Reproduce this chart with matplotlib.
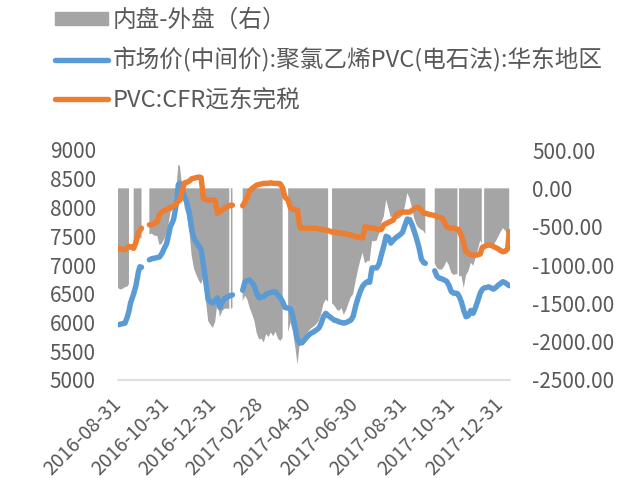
import numpy as np
import pandas as pd
import matplotlib
matplotlib.use('Agg')
import matplotlib.pyplot as plt
from matplotlib.patches import Patch
from matplotlib.lines import Line2D
from matplotlib.transforms import ScaledTranslation

plt.rcParams['font.family'] = ['Noto Sans CJK SC', 'DejaVu Sans']

nan = np.nan

dates = [
    '2016-08-31', '2016-09-03', '2016-09-06', '2016-09-09', '2016-09-12', '2016-09-14',
    '2016-09-16', '2016-09-20', '2016-09-23', '2016-09-26', '2016-09-28', '2016-09-30',
    '2016-10-05', '2016-10-10', '2016-10-13', '2016-10-17', '2016-10-20', '2016-10-23',
    '2016-10-26', '2016-10-29',
    '2016-11-01', '2016-11-04', '2016-11-06', '2016-11-08', '2016-11-10', '2016-11-12',
    '2016-11-14', '2016-11-16', '2016-11-18', '2016-11-21', '2016-11-24', '2016-11-27',
    '2016-11-30',
    '2016-12-03', '2016-12-06', '2016-12-09', '2016-12-12', '2016-12-15', '2016-12-18',
    '2016-12-21', '2016-12-24', '2016-12-27', '2016-12-30',
    '2017-01-02', '2017-01-05', '2017-01-08', '2017-01-11', '2017-01-14', '2017-01-17',
    '2017-01-20', '2017-01-21', '2017-01-22', '2017-01-24', '2017-01-29',
    '2017-02-06', '2017-02-09', '2017-02-12', '2017-02-15', '2017-02-18', '2017-02-21',
    '2017-02-24', '2017-02-27',
    '2017-03-02', '2017-03-05', '2017-03-08', '2017-03-11', '2017-03-14', '2017-03-17',
    '2017-03-20', '2017-03-23', '2017-03-26', '2017-03-29',
    '2017-04-01', '2017-04-05', '2017-04-08', '2017-04-11', '2017-04-14', '2017-04-17',
    '2017-04-20', '2017-04-23', '2017-04-26', '2017-04-29',
    '2017-05-02', '2017-05-05', '2017-05-08', '2017-05-11', '2017-05-14', '2017-05-17',
    '2017-05-20', '2017-05-23', '2017-05-26', '2017-05-28', '2017-05-31',
    '2017-06-03', '2017-06-06', '2017-06-09', '2017-06-12', '2017-06-15', '2017-06-18',
    '2017-06-21', '2017-06-24', '2017-06-27', '2017-06-30',
    '2017-07-03', '2017-07-06', '2017-07-09', '2017-07-12', '2017-07-15', '2017-07-18',
    '2017-07-21', '2017-07-24', '2017-07-27', '2017-07-30',
    '2017-08-02', '2017-08-05', '2017-08-08', '2017-08-11', '2017-08-14', '2017-08-17',
    '2017-08-20', '2017-08-23', '2017-08-26', '2017-08-29',
    '2017-09-01', '2017-09-04', '2017-09-07', '2017-09-10', '2017-09-13', '2017-09-16',
    '2017-09-19', '2017-09-22', '2017-09-25', '2017-09-27',
    '2017-10-02', '2017-10-09', '2017-10-12', '2017-10-15', '2017-10-18', '2017-10-21',
    '2017-10-24', '2017-10-27', '2017-10-30',
    '2017-11-02', '2017-11-05', '2017-11-07', '2017-11-08', '2017-11-09', '2017-11-12',
    '2017-11-15', '2017-11-18', '2017-11-21', '2017-11-24', '2017-11-27', '2017-11-30',
    '2017-12-03', '2017-12-06', '2017-12-08', '2017-12-09', '2017-12-11', '2017-12-14',
    '2017-12-17', '2017-12-20', '2017-12-23', '2017-12-26', '2017-12-29',
    '2018-01-01', '2018-01-04', '2018-01-07', '2018-01-10', '2018-01-12',
]

# 市场价(中间价):聚氯乙烯PVC(电石法):华东地区
blue = [
    5960, 5970, 5980, 5990, 6100, 6200, 6340, 6500, 6650, 6880, 6970, 6960,
    nan, 7090, 7110, 7120, 7130, 7140, 7200, 7290,
    7370, 7560, 7680, 7730, 7800, 7950, 8120, 8400, 8420, 8300, 8180, 8080, 7900,
    7620, 7460, 7390, 7330, 7270, 7000, 6700, 6400, 6360, 6340,
    6380, 6430, 6260, 6360, 6420, 6440, 6460, 6465, 6470, 6480, nan,
    6560, 6710, 6730, 6740, 6690, 6630, 6500, 6430,
    6440, 6450, 6490, 6510, 6520, 6530, 6530, 6480, 6430, 6360,
    6260, 6250, 6240, 6110, 5900, 5700, 5640, 5650, 5700, 5750,
    5790, 5820, 5840, 5870, 5900, 5980, 6100, 6160, 6120, 6100, 6070,
    6040, 6030, 6010, 6000, 5990, 6000, 6020, 6040, 6110, 6280,
    6420, 6540, 6630, 6680, 6710, 6700, 6950, 6950, 6950, 7020,
    7180, 7330, 7500, 7480, 7380, 7430, 7470, 7500, 7530, 7570,
    7690, 7800, 7790, 7700, 7580, 7450, 7300, 7100, 7040, 7030,
    nan, 6900, 6800, 6770, 6760, 6740, 6720, 6650, 6540,
    6510, 6510, 6500, 6480, 6460, 6360, 6210, 6100, 6120, 6210, 6160, 6260,
    6380, 6510, 6560, 6580, 6600, 6610, 6620, 6600, 6580, 6610, 6650,
    6680, 6710, 6690, 6660, 6640,
]

# PVC:CFR远东完税
orange = [
    7290, 7280, 7270, 7270, 7300, 7320, 7320, 7290, 7400, 7560, 7600, 7640,
    nan, 7700, 7700, 7730, 7750, 7880, 7920, 7950,
    7960, 7990, 7990, 8010, 8030, 8040, 8080, 8110, 8130, 8300, 8430, 8440, 8460,
    8500, 8510, 8520, 8530, 8520, 8160, 8140, 8130, 8130, 8130,
    8120, 7900, 7930, 7960, 7990, 8010, 8030, 8035, 8040, 8040, nan,
    8030, 8100, 8180, 8290, 8330, 8360, 8390, 8400,
    8410, 8420, 8420, 8420, 8430, 8420, 8420, 8420, 8410, 8340,
    8180, 8130, 7990, 7970, 7960, 7950, 7650, 7640, 7640, 7640,
    7640, 7640, 7640, 7640, 7630, 7620, 7610, 7610, 7600, 7590, 7570,
    7570, 7560, 7560, 7550, 7550, 7540, 7530, 7520, 7510, 7490,
    7490, 7480, 7470, 7660, 7660, 7650, 7640, 7640, 7630, 7610,
    7620, 7700, 7720, 7740, 7760, 7780, 7860, 7900, 7910, 7920,
    7920, 7920, 7920, 7950, 7980, 8000, 8000, 7950, 7900, 7900,
    7880, 7860, 7840, 7830, 7820, 7760, 7670, 7650, 7640,
    7640, 7630, 7620, 7620, 7610, 7500, 7380, 7230, 7200, 7180, 7170, 7170,
    7180, 7190, 7280, 7310, 7320, 7340, 7350, 7340, 7320, 7300, 7280,
    7250, 7230, 7240, 7280, 7580,
]

# 内盘-外盘（右）
spread = [
    -1300, -1320, -1310, -1290, -1280, -1250, nan, -800, -720, -680, -640, -660,
    nan, -600, -590, -620, -620, -740, -720, -660,
    -590, -430, -310, -280, -230, -90, 60, 310, 290, 0, -250, -360, -560,
    -880, -1050, -1130, -1200, -1250, -1160, -1450, -1730, -1780, -1820,
    -1740, -1480, -1680, -1600, -1570, -1570, -1570, nan, -1570, -1560, nan,
    -1470, -1400, -1450, -1560, -1640, -1730, -1890, -1970,
    -1960, -2010, -1900, -1940, -1880, -1930, -1870, -1960, -1990, -1950,
    nan, -1880, -1750, -1860, -2060, -2300, -2010, -1990, -1940, -1890,
    -1850, -1820, -1800, -1770, -1730, -1640, -1510, -1450, -1480, nan, -1500,
    -1530, -1580, -1600, -1560, -1650, -1590, -1500, -1420, -1380, -1210,
    -1070, -940, -840, -980, -950, -950, -690, -690, -680, -590,
    -440, -370, -150, -260, -380, -350, -390, -400, -380, -350,
    -230, -60, -130, -250, -400, -480, -520, -540, -560, -600,
    nan, -980, -1040, -1060, -1060, -1020, -950, -1000, -1100,
    -1130, -1120, -1120, nan, -1150, -1140, -1300, -1130, -1080, -970, -1010, -910,
    -800, -680, -720, nan, -720, -730, -730, -740, -740, -690, -630,
    -570, -520, -550, -620, -650,
]

tick_dates = ['2016-08-31', '2016-10-31', '2016-12-31', '2017-02-28', '2017-04-30',
              '2017-06-30', '2017-08-31', '2017-10-31', '2017-12-31']
left_ticks = [5000, 5500, 6000, 6500, 7000, 7500, 8000, 8500, 9000]
right_ticks = [-2500, -2000, -1500, -1000, -500, 0, 500]
right_labels = ['-2500.00', '-2000.00', '-1500.00', '-1000.00', '-500.00', '0.00', '500.00']

labels = ['内盘-外盘（右）', '市场价(中间价):聚氯乙烯PVC(电石法):华东地区', 'PVC:CFR远东完税']

x = pd.to_datetime(dates)
txt = '#595959'

fig = plt.figure(figsize=(6.22, 4.95), dpi=100)
ax = fig.add_axes([118 / 622, 1 - 380 / 495, (510 - 118) / 622, 230 / 495])
ax2 = ax.twinx()
ax.set_zorder(ax2.get_zorder() + 1)
ax.patch.set_visible(False)

ax2.fill_between(x, 0, spread, color='#a5a5a5', linewidth=0)
ax.plot(x, blue, color='#5b9bd5', lw=3.9, solid_capstyle='round', solid_joinstyle='round')
ax.plot(x, orange, color='#ed7d31', lw=3.9, solid_capstyle='round', solid_joinstyle='round')

ax.set_xlim(pd.Timestamp('2016-08-31'), pd.Timestamp('2018-01-13'))
ax.set_ylim(5000, 9000)
ax.set_yticks(left_ticks)
ax2.set_ylim(-2500, 500)
ax2.set_yticks(right_ticks)
ax2.set_yticklabels(right_labels)
ax.set_xticks(pd.to_datetime(tick_dates))
ax.set_xticklabels(tick_dates, rotation=45, ha='right', va='center',
                   rotation_mode='anchor', fontsize=14)
shift = ScaledTranslation(4 / 100, 0, fig.dpi_scale_trans)
for lab in ax.get_xticklabels():
    lab.set_transform(lab.get_transform() + shift)

for a in (ax, ax2):
    for s in a.spines.values():
        s.set_visible(False)
ax.spines['bottom'].set_visible(True)
ax.spines['bottom'].set_color('#d9d9d9')
ax.spines['bottom'].set_linewidth(1.2)

ax.tick_params(axis='both', length=0, colors=txt)
ax.tick_params(axis='y', pad=16, labelsize=15)
ax.tick_params(axis='x', pad=15)
ax2.tick_params(axis='y', length=0, labelsize=15, colors=txt, pad=16)

handles = [Patch(color='#a5a5a5'),
           Line2D([], [], color='#5b9bd5', lw=3.9, solid_capstyle='round'),
           Line2D([], [], color='#ed7d31', lw=3.9, solid_capstyle='round')]
fig.legend(handles, labels, loc='upper left', bbox_to_anchor=(55 / 622, 1 - 9 / 495),
           frameon=False, fontsize=17, handlelength=2.25, handleheight=0.45,
           handletextpad=0.2, labelspacing=0.66, borderpad=0, borderaxespad=0,
           labelcolor=txt)

fig.savefig('out.png', dpi=100)
